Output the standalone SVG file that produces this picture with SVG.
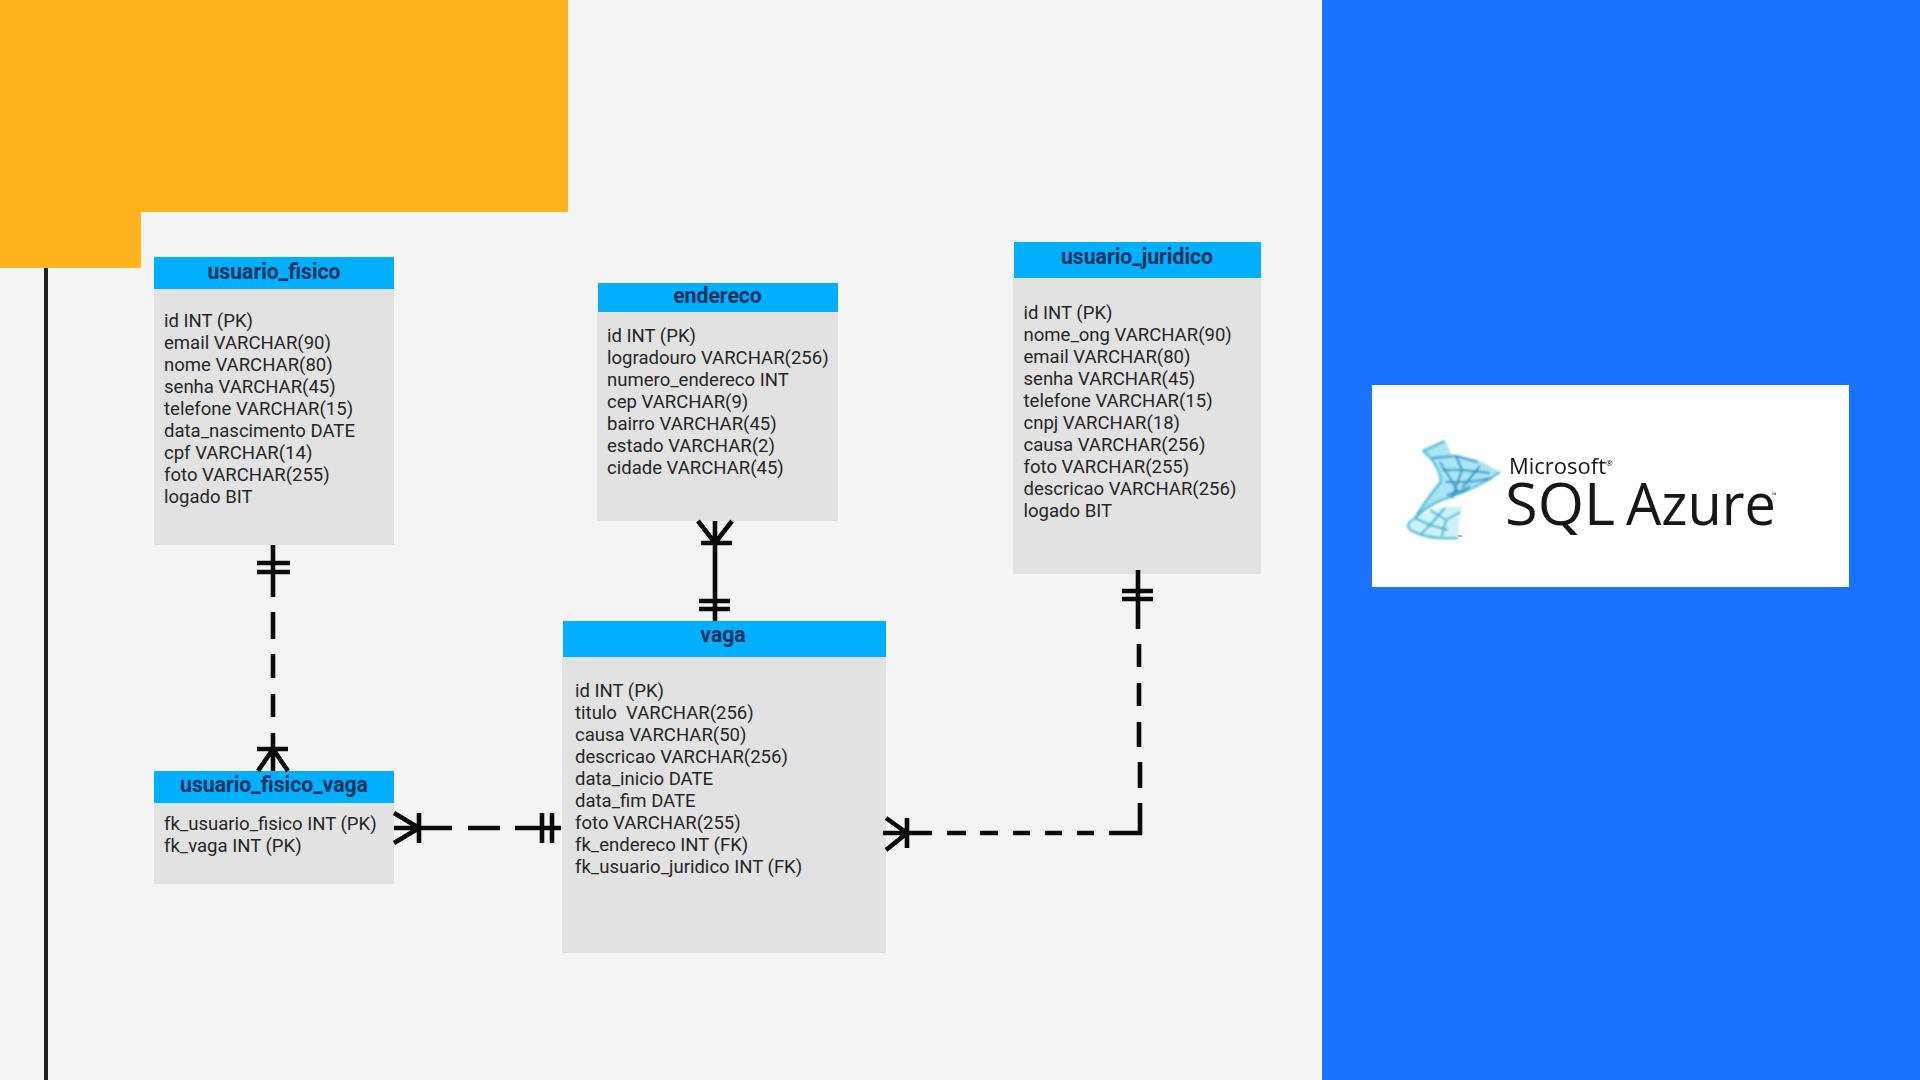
<svg xmlns="http://www.w3.org/2000/svg" width="1920" height="1080" viewBox="0 0 1920 1080">
<defs>
<style>
.h{fill:#00b0ff}
.b{fill:#e2e2e2}
text{font-family:Roboto,"Liberation Sans",sans-serif}
.t{font-size:18.55px;fill:#262626;white-space:pre}
.n{font-size:21.2px;font-weight:700;fill:#05305a;text-anchor:middle}
.c{fill:none;stroke:#0a0a0a;stroke-width:4.6}
.m{fill:none;stroke:#35b6d6;stroke-width:2;stroke-linejoin:round}
.d{fill:none;stroke:#2a8fc6;stroke-width:2}
.lg{fill:#161616;font-family:"Open Sans","Noto Sans",sans-serif}
</style>
<filter id="soft" x="-10%" y="-10%" width="120%" height="120%"><feGaussianBlur stdDeviation="1"/></filter>
<filter id="soft2" x="-5%" y="-10%" width="110%" height="120%"><feGaussianBlur stdDeviation="0.5"/></filter>
</defs>
<rect width="1920" height="1080" fill="#f4f4f4"/>
<rect x="1322" width="598" height="1080" fill="#1a73fe"/>
<path d="M0 0H568V212H141V268H0Z" fill="#ffb31d"/>
<rect x="44" y="268" width="4" height="812" fill="#212121"/>

<g id="usuario_fisico">
<rect class="b" x="154" y="289" width="240" height="256"/>
<rect class="h" x="154" y="257" width="240" height="32"/>
<text class="n" x="274" y="279">usuario_fisico</text>
<text class="t" x="164" y="326.5">id INT (PK)</text>
<text class="t" x="164" y="348.5">email VARCHAR(90)</text>
<text class="t" x="164" y="370.5">nome VARCHAR(80)</text>
<text class="t" x="164" y="392.5">senha VARCHAR(45)</text>
<text class="t" x="164" y="414.5">telefone VARCHAR(15)</text>
<text class="t" x="164" y="436.5">data_nascimento DATE</text>
<text class="t" x="164" y="458.5">cpf VARCHAR(14)</text>
<text class="t" x="164" y="480.5">foto VARCHAR(255)</text>
<text class="t" x="164" y="502.5">logado BIT</text>
</g>
<g id="endereco">
<rect class="b" x="597" y="312" width="241" height="209"/>
<rect class="h" x="598" y="283" width="240" height="29"/>
<text class="n" x="717.5" y="303">endereco</text>
<text class="t" x="607" y="342">id INT (PK)</text>
<text class="t" x="607" y="364">logradouro VARCHAR(256)</text>
<text class="t" x="607" y="386">numero_endereco INT</text>
<text class="t" x="607" y="408">cep VARCHAR(9)</text>
<text class="t" x="607" y="430">bairro VARCHAR(45)</text>
<text class="t" x="607" y="452">estado VARCHAR(2)</text>
<text class="t" x="607" y="474">cidade VARCHAR(45)</text>
</g>
<g id="usuario_juridico">
<rect class="b" x="1013" y="278" width="248" height="296"/>
<rect class="h" x="1014" y="242" width="247" height="36"/>
<text class="n" x="1137" y="264">usuario_juridico</text>
<text class="t" x="1023.5" y="318.5">id INT (PK)</text>
<text class="t" x="1023.5" y="340.5">nome_ong VARCHAR(90)</text>
<text class="t" x="1023.5" y="362.5">email VARCHAR(80)</text>
<text class="t" x="1023.5" y="384.5">senha VARCHAR(45)</text>
<text class="t" x="1023.5" y="406.5">telefone VARCHAR(15)</text>
<text class="t" x="1023.5" y="428.5">cnpj VARCHAR(18)</text>
<text class="t" x="1023.5" y="450.5">causa VARCHAR(256)</text>
<text class="t" x="1023.5" y="472.5">foto VARCHAR(255)</text>
<text class="t" x="1023.5" y="494.5">descricao VARCHAR(256)</text>
<text class="t" x="1023.5" y="516.5">logado BIT</text>
</g>
<g id="vaga">
<rect class="b" x="562" y="657" width="324" height="296"/>
<rect class="h" x="563" y="621" width="323" height="36"/>
<text class="n" x="723" y="642">vaga</text>
<text class="t" x="575" y="696.5">id INT (PK)</text>
<text class="t" x="575" y="718.5">titulo  VARCHAR(256)</text>
<text class="t" x="575" y="740.5">causa VARCHAR(50)</text>
<text class="t" x="575" y="762.5">descricao VARCHAR(256)</text>
<text class="t" x="575" y="784.5">data_inicio DATE</text>
<text class="t" x="575" y="806.5">data_fim DATE</text>
<text class="t" x="575" y="828.5">foto VARCHAR(255)</text>
<text class="t" x="575" y="850.5">fk_endereco INT (FK)</text>
<text class="t" x="575" y="872.5">fk_usuario_juridico INT (FK)</text>
</g>
<g id="usuario_fisico_vaga">
<rect class="b" x="154" y="803" width="240" height="81"/>
<rect class="h" x="154" y="771" width="240" height="32"/>
<text class="n" x="274" y="792">usuario_fisico_vaga</text>
<text class="t" x="164" y="830">fk_usuario_fisico INT (PK)</text>
<text class="t" x="164" y="852">fk_vaga INT (PK)</text>
</g>

<g id="connectors">
<path class="c" d="M273 545V597M257 563H290M257 572H290M273 612V639M273 654V678M273 694V717M273 733V771M257 749H288M258 771L273 749L288 771"/>
<path class="c" d="M394 813L419 828L394 843M419 813V843M394 828H452M468 828H500M515 828H561M542 813V843M552 813V843"/>
<path class="c" d="M715 521V621M698 521L715 543L732 521M701 543H732M699 601H730M699 609H730"/>
<path class="c" d="M1138 570V629M1122 591H1153M1122 599H1153M1139 644V667M1139 683V706M1139 722V747M1140 762V788M1140 803V833H1109M1094 833H1077M1062 833H1045M1030 833H1013M998 833H980M966 833H947M932 833H883M886 818L907 833L886 850M907 818V848"/>
</g>

<g id="logo">
<rect x="1372" y="385" width="477" height="202" fill="#fff"/>
<g filter="url(#soft)">
<path d="M1423 451L1445 441L1452 455Q1480 458 1500 472Q1478 488 1450 497Q1430 503 1415 518Q1428 497 1440 480Q1440 465 1423 451Z" fill="#a9e6f3"/>
<path d="M1415 518Q1440 503 1462 507Q1458 525 1458 538Q1430 540 1410 530Q1405 525 1415 518Z" fill="#cdf1f7"/>
<path class="m" d="M1423 451L1445 441M1423 451Q1440 465 1441 482Q1428 497 1415 518M1500 472Q1478 488 1450 497Q1430 503 1415 518Q1403 525 1412 531Q1430 540 1458 538"/>
<path class="d" d="M1432 458L1456 456L1478 462M1442 470L1462 470L1490 473M1445 482L1470 482L1492 478M1447 495L1464 490L1470 486M1452 498L1462 470L1456 456M1462 488L1480 466M1440 462L1450 478L1458 492"/>
<path class="m" d="M1415 518L1430 525L1445 508M1420 535L1430 525L1448 530M1430 510L1446 520L1442 536M1446 520L1460 512"/>
</g>
<g filter="url(#soft2)">
<text class="lg" x="1509" y="474" font-size="21.5" textLength="97" lengthAdjust="spacingAndGlyphs">Microsoft</text>
<text class="lg" x="1606" y="466" font-size="8">®</text>
<text class="lg" x="1505" y="525" font-size="59" textLength="110" lengthAdjust="spacingAndGlyphs">SQL</text>
<text class="lg" x="1626" y="525" font-size="59" textLength="150" lengthAdjust="spacingAndGlyphs">Azure</text>
<text class="lg" x="1772" y="497" font-size="6">™</text>
<text class="lg" x="1458" y="539" font-size="5">™</text>
</g>
</g>
</svg>
